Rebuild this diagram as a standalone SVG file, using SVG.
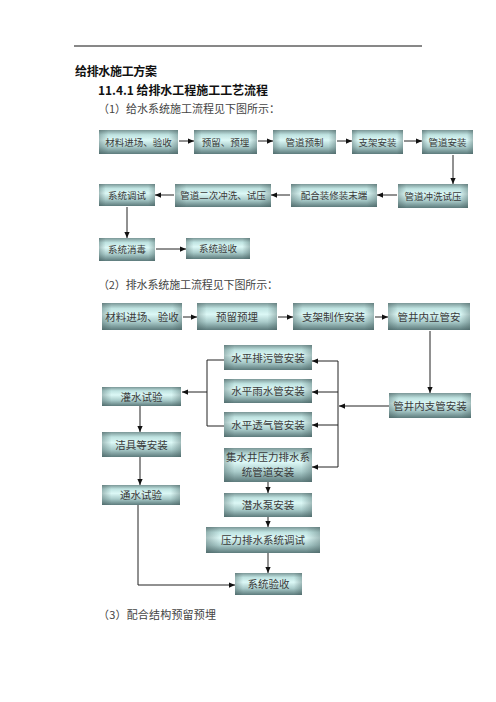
<svg xmlns="http://www.w3.org/2000/svg" width="496" height="702" viewBox="0 0 496 702">
<defs>
<linearGradient id="g" x1="0" y1="0" x2="0" y2="1">
<stop offset="0" stop-color="#7b9797"/>
<stop offset="0.2" stop-color="#bfe3e1"/>
<stop offset="0.42" stop-color="#dcf8f6"/>
<stop offset="0.7" stop-color="#a9cbca"/>
<stop offset="1" stop-color="#5d7b7c"/>
</linearGradient>
<linearGradient id="h" x1="0" y1="0" x2="1" y2="0">
<stop offset="0" stop-color="#3a5252" stop-opacity="0.35"/>
<stop offset="0.12" stop-color="#3a5252" stop-opacity="0"/>
<stop offset="0.88" stop-color="#3a5252" stop-opacity="0"/>
<stop offset="1" stop-color="#3a5252" stop-opacity="0.35"/>
</linearGradient>
<marker id="a" viewBox="0 0 8 8" refX="8" refY="4" markerWidth="6" markerHeight="6" orient="auto" markerUnits="userSpaceOnUse">
<path d="M0,0.5 L8,4 L0,7.5 Z" fill="#111"/>
</marker>
</defs>
<style>
.b{fill:url(#g);}
.s{fill:url(#h);}
.t{font-family:"Noto Sans CJK SC","Liberation Serif",serif;fill:#3a3a3a;text-anchor:middle;}
.t1{font-size:9.5px;}
.t2{font-size:10.5px;}
.c line,.c path{stroke:#222;stroke-width:1;fill:none;}
.c .ar{marker-end:url(#a);}
.h{font-family:"Noto Sans CJK SC","Liberation Serif",serif;fill:#111;}
</style>
<rect width="496" height="702" fill="#fff"/>
<line x1="74" y1="46" x2="422" y2="46" stroke="#111" stroke-width="1"/>
<text class="h" x="75" y="76" font-size="12" font-weight="bold" textLength="82">给排水施工方案</text>
<text class="h" x="98" y="95" font-size="12" font-weight="bold" textLength="170">11.4.1 给排水工程施工工艺流程</text>
<text class="h" x="98" y="113" font-size="11" fill="#333" textLength="182" style="fill:#444">（1）给水系统施工流程见下图所示：</text>
<text class="h" x="98" y="289" font-size="11" textLength="180" style="fill:#444">（2）排水系统施工流程见下图所示：</text>
<text class="h" x="98" y="619" font-size="11" textLength="118" style="fill:#444">（3）配合结构预留预埋</text>

<g id="w1"><rect class="b" x="99" y="130" width="79" height="24"/><rect class="s" x="99" y="130" width="79" height="24"/><text class="t t1" x="138.5" y="145.5">材料进场、验收</text></g>
<g id="w2"><rect class="b" x="194" y="130" width="63" height="24"/><rect class="s" x="194" y="130" width="63" height="24"/><text class="t t1" x="225.5" y="145.5">预留、预埋</text></g>
<g id="w3"><rect class="b" x="273" y="130" width="63" height="24"/><rect class="s" x="273" y="130" width="63" height="24"/><text class="t t1" x="304.5" y="145.5">管道预制</text></g>
<g id="w4"><rect class="b" x="352" y="130" width="51" height="24"/><rect class="s" x="352" y="130" width="51" height="24"/><text class="t t1" x="377.5" y="145.5">支架安装</text></g>
<g id="w5"><rect class="b" x="422" y="130" width="51" height="24"/><rect class="s" x="422" y="130" width="51" height="24"/><text class="t t1" x="447.5" y="145.5">管道安装</text></g>
<g id="w6"><rect class="b" x="398" y="184" width="70" height="24"/><rect class="s" x="398" y="184" width="70" height="24"/><text class="t t1" x="433" y="199.5">管道冲洗试压</text></g>
<g id="w7"><rect class="b" x="291" y="184" width="86" height="23"/><rect class="s" x="291" y="184" width="86" height="23"/><text class="t t1" x="334" y="199">配合装修装末端</text></g>
<g id="w8"><rect class="b" x="175" y="184" width="96" height="23"/><rect class="s" x="175" y="184" width="96" height="23"/><text class="t t1" x="223" y="199">管道二次冲洗、试压</text></g>
<g id="w9"><rect class="b" x="99" y="184" width="56" height="22"/><rect class="s" x="99" y="184" width="56" height="22"/><text class="t t1" x="127" y="198.5">系统调试</text></g>
<g id="w10"><rect class="b" x="99" y="238" width="56" height="23"/><rect class="s" x="99" y="238" width="56" height="23"/><text class="t t1" x="127" y="252.5">系统消毒</text></g>
<g id="w11"><rect class="b" x="186" y="238" width="64" height="21"/><rect class="s" x="186" y="238" width="64" height="21"/><text class="t t1" x="218" y="251.5">系统验收</text></g>

<g id="d1"><rect class="b" x="102" y="303" width="80" height="27"/><rect class="s" x="102" y="303" width="80" height="27"/><text class="t t2" x="142" y="320.5">材料进场、验收</text></g>
<g id="d2"><rect class="b" x="197" y="303" width="80" height="27"/><rect class="s" x="197" y="303" width="80" height="27"/><text class="t t2" x="237" y="320.5">预留预埋</text></g>
<g id="d3"><rect class="b" x="293" y="303" width="81" height="27"/><rect class="s" x="293" y="303" width="81" height="27"/><text class="t t2" x="333.5" y="320.5">支架制作安装</text></g>
<g id="d4"><rect class="b" x="388" y="303" width="82" height="27"/><rect class="s" x="388" y="303" width="82" height="27"/><text class="t t2" x="429" y="320.5">管井内立管安</text></g>
<g id="d5"><rect class="b" x="389" y="393" width="82" height="25"/><rect class="s" x="389" y="393" width="82" height="25"/><text class="t t2" x="430" y="409.5">管井内支管安装</text></g>
<g id="d6"><rect class="b" x="224" y="345" width="88" height="25"/><rect class="s" x="224" y="345" width="88" height="25"/><text class="t t2" x="268" y="361.5">水平排污管安装</text></g>
<g id="d7"><rect class="b" x="224" y="379" width="88" height="24"/><rect class="s" x="224" y="379" width="88" height="24"/><text class="t t2" x="268" y="395">水平雨水管安装</text></g>
<g id="d8"><rect class="b" x="224" y="412" width="88" height="25"/><rect class="s" x="224" y="412" width="88" height="25"/><text class="t t2" x="268" y="428.5">水平透气管安装</text></g>
<g id="d9"><rect class="b" x="224" y="448" width="88" height="34"/><rect class="s" x="224" y="448" width="88" height="34"/><text class="t t2" x="268" y="461">集水井压力排水系</text><text class="t t2" x="268" y="476">统管道安装</text></g>
<g id="d10"><rect class="b" x="224" y="493" width="88" height="24"/><rect class="s" x="224" y="493" width="88" height="24"/><text class="t t2" x="268" y="509">潜水泵安装</text></g>
<g id="d11"><rect class="b" x="206" y="527" width="114" height="26"/><rect class="s" x="206" y="527" width="114" height="26"/><text class="t t2" x="263" y="544">压力排水系统调试</text></g>
<g id="d12"><rect class="b" x="235" y="573" width="67" height="22"/><rect class="s" x="235" y="573" width="67" height="22"/><text class="t t2" x="268.5" y="588">系统验收</text></g>
<g id="d13"><rect class="b" x="102" y="387" width="79" height="19"/><rect class="s" x="102" y="387" width="79" height="19"/><text class="t t2" x="141.5" y="400.5">灌水试验</text></g>
<g id="d14"><rect class="b" x="102" y="432" width="79" height="25"/><rect class="s" x="102" y="432" width="79" height="25"/><text class="t t2" x="141.5" y="448.5">洁具等安装</text></g>
<g id="d15"><rect class="b" x="102" y="485" width="78" height="20"/><rect class="s" x="102" y="485" width="78" height="20"/><text class="t t2" x="141" y="499">通水试验</text></g>

<g class="c" id="connectors">
<line class="ar" x1="179" y1="141" x2="194" y2="141"/>
<line class="ar" x1="258" y1="141" x2="273" y2="141"/>
<line class="ar" x1="337" y1="141" x2="352" y2="141"/>
<line class="ar" x1="404" y1="141" x2="422" y2="141"/>
<line class="ar" x1="453" y1="155" x2="453" y2="184"/>
<line class="ar" x1="397" y1="195" x2="377" y2="195"/>
<line class="ar" x1="290" y1="195" x2="271" y2="195"/>
<line class="ar" x1="174" y1="195" x2="155" y2="195"/>
<line class="ar" x1="127" y1="207" x2="127" y2="238"/>
<line class="ar" x1="156" y1="249" x2="186" y2="249"/>

<line class="ar" x1="183" y1="317" x2="197" y2="317"/>
<line class="ar" x1="278" y1="317" x2="293" y2="317"/>
<line class="ar" x1="375" y1="317" x2="388" y2="317"/>
<line class="ar" x1="430" y1="331" x2="430" y2="393"/>
<line class="ar" x1="389" y1="406" x2="339" y2="406"/>
<path d="M338,361 V467"/>
<line class="ar" x1="338" y1="361" x2="312" y2="361"/>
<line class="ar" x1="338" y1="392" x2="312" y2="392"/>
<line class="ar" x1="338" y1="425" x2="312" y2="425"/>
<line class="ar" x1="338" y1="467" x2="312" y2="467"/>
<path d="M224,360 H207 V426 H224"/>
<line class="ar" x1="207" y1="392" x2="182" y2="392"/>
<line class="ar" x1="140" y1="406" x2="140" y2="432"/>
<line class="ar" x1="140" y1="457" x2="140" y2="485"/>
<path class="ar" d="M138,505 V585 H235"/>
<line class="ar" x1="268" y1="482" x2="268" y2="493"/>
<line class="ar" x1="268" y1="517" x2="268" y2="527"/>
<line class="ar" x1="268" y1="553" x2="268" y2="573"/>
</g>
</svg>
